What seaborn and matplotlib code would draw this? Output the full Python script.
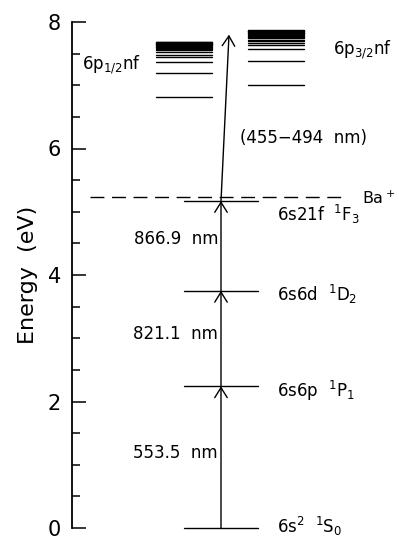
import pandas as pd
import seaborn as sns
import matplotlib.pyplot as plt
from matplotlib.ticker import MultipleLocator

sns.set_style("ticks", rc={'axes.edgecolor': 'black', 'text.color': 'black',
                           'axes.labelcolor': 'black', 'ytick.color': 'black',
                           'xtick.color': 'black'})
plt.rcParams['font.family'] = ['DejaVu Sans']
plt.rcParams['mathtext.default'] = 'regular'

# bound states of the excitation ladder (eV)
ladder_names = ['6s$^2$  $^1$S$_0$', '6s6p  $^1$P$_1$', '6s6d  $^1$D$_2$', '6s21f  $^1$F$_3$']
ladder_energy = [0.0, 2.24, 3.75, 5.17]
ladder_label_y = [0.03, 2.17, 3.70, 4.96]
step_labels = ['553.5  nm', '821.1  nm', '866.9  nm']
step_label_y = [1.18, 3.07, 4.57]

ion_limit = 5.23
final_energy = 7.80

# autoionizing Rydberg series (eV)
p12_levels = [6.82, 7.20, 7.37, 7.45, 7.48, 7.53, 7.555, 7.575,
              7.59, 7.60, 7.61, 7.62, 7.63, 7.64, 7.645, 7.65, 7.655,
              7.66, 7.665, 7.67, 7.675, 7.68, 7.685]
p32_levels = [7.01, 7.39, 7.575, 7.63, 7.67, 7.70, 7.72, 7.74, 7.755,
              7.765, 7.775, 7.785, 7.795, 7.805, 7.81, 7.82, 7.825,
              7.83, 7.84, 7.845, 7.85, 7.855, 7.86, 7.865, 7.87]


def level_frame(energies, x0, x1, tag):
    rows = []
    for i, e in enumerate(energies):
        rows.append({'x': x0, 'energy': e, 'level': f'{tag}{i}'})
        rows.append({'x': x1, 'energy': e, 'level': f'{tag}{i}'})
    return pd.DataFrame(rows)


def main():
    fig = plt.figure(figsize=(3.99, 5.4), dpi=100)
    ax = fig.add_axes([72 / 399, 12 / 540, 327 / 399, 506 / 540])

    df = pd.concat([level_frame(ladder_energy, 184, 258, 'l'),
                    level_frame(p12_levels, 156, 212, 'a'),
                    level_frame(p32_levels, 248, 304, 'b')])
    sns.lineplot(data=df, x='x', y='energy', units='level', estimator=None,
                 color='black', lw=1.0, ax=ax)
    for line in ax.lines:
        line.set_clip_on(False)

    ax.plot([90, 348], [ion_limit, ion_limit], color='black', lw=1.0,
            dashes=(10, 5.5))
    ax.text(362, ion_limit - 0.02, 'Ba$^+$', fontsize=11.5, va='center', ha='left')

    xv = 221
    arrow = dict(arrowstyle='->,head_length=0.4,head_width=0.25', color='black',
                 lw=1.0, shrinkA=0, shrinkB=0, mutation_scale=18)
    for lo, hi in zip(ladder_energy[:-1], ladder_energy[1:]):
        ax.annotate('', xy=(xv, hi), xytext=(xv, lo), arrowprops=arrow)
    ax.annotate('', xy=(229, final_energy), xytext=(xv, ladder_energy[-1]),
                arrowprops=arrow)

    for name, y in zip(ladder_names, ladder_label_y):
        ax.text(277, y, name, fontsize=12, va='center', ha='left')
    for name, y in zip(step_labels, step_label_y):
        ax.text(218, y, name, fontsize=12, va='center', ha='right')

    ax.text(82, 7.32, '6p$_{1/2}$nf', fontsize=12, va='center', ha='left')
    ax.text(333, 7.56, '6p$_{3/2}$nf', fontsize=12, va='center', ha='left')
    ax.text(240, 6.17, '(455\u2212494  nm)', fontsize=12, va='center', ha='left')

    ax.set_xlim(72, 399)
    ax.set_ylim(0, 8)
    ax.set_xlabel('')
    ax.set_ylabel('Energy  (eV)', fontsize=16, labelpad=7)
    ax.set_xticks([])
    ax.yaxis.set_major_locator(MultipleLocator(2))
    ax.yaxis.set_minor_locator(MultipleLocator(0.5))
    ax.tick_params(axis='y', which='major', direction='in', length=10, width=1.1,
                   pad=8, labelsize=15)
    ax.tick_params(axis='y', which='minor', direction='in', length=5.5, width=1.1)
    sns.despine(ax=ax, top=True, right=True, bottom=True)
    ax.spines['left'].set_linewidth(1.3)
    ax.patch.set_alpha(0)

    fig.savefig('out.png', dpi=100)


if __name__ == '__main__':
    main()
